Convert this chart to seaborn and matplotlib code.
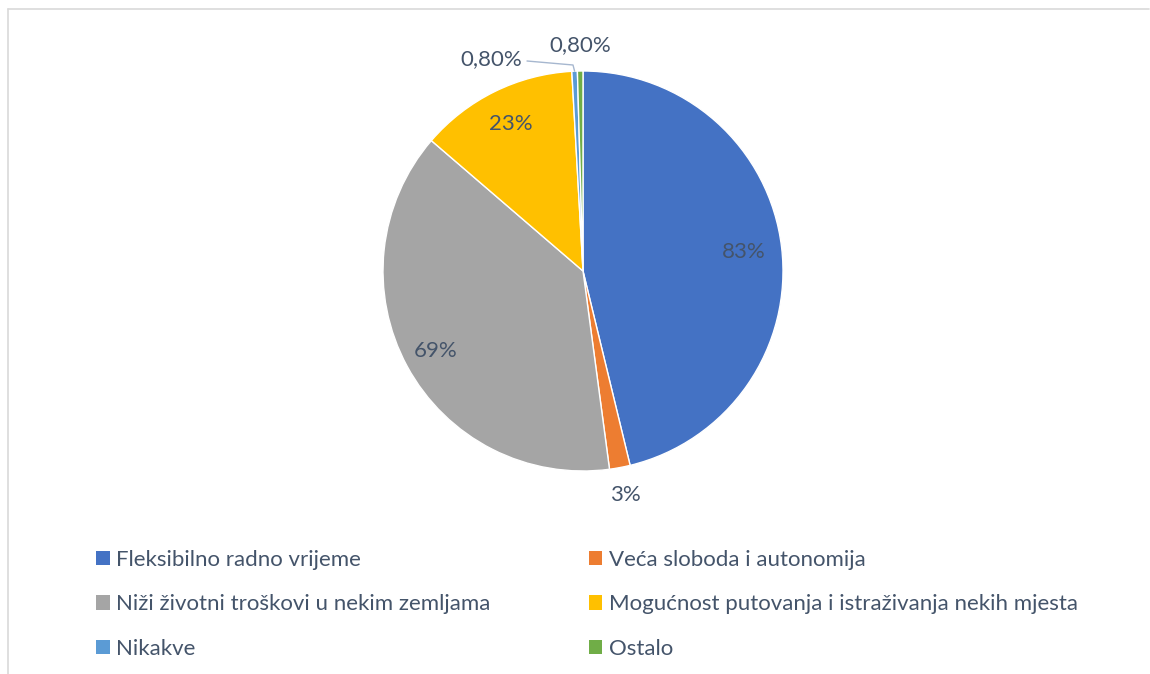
import matplotlib
matplotlib.use("Agg")
import matplotlib.pyplot as plt
import seaborn as sns
from matplotlib.patches import Patch
from matplotlib.lines import Line2D
import numpy as np

categories = ["Fleksibilno radno vrijeme", "Veća sloboda i autonomija",
              "Niži životni troškovi u nekim zemljama",
              "Mogućnost putovanja i istraživanja nekih mjesta",
              "Nikakve", "Ostalo"]
values = [83, 3, 69, 23, 0.8, 0.8]
value_labels = ["83%", "3%", "69%", "23%", "0,80%", "0,80%"]
colors = ["#4472C4", "#ED7D31", "#A5A5A5", "#FFC000", "#5B9BD5", "#70AD47"]

sns.set_theme(style="white")
plt.rcParams['font.family'] = ['Lato', 'DejaVu Sans']
txt_color = "#44546A"

W, H = 1150, 674
fig = plt.figure(figsize=(W / 100, H / 100), dpi=100)
fig.patch.set_facecolor("white")

# chart border (top and left visible)
fig.add_artist(Line2D([7.5 / W, 7.5 / W], [0, 1 - 9 / H], color="#D9D9D9", lw=1.2))
fig.add_artist(Line2D([7.5 / W, 1149 / W], [1 - 9 / H, 1 - 9 / H], color="#D9D9D9", lw=1.2))

cx, cy, r = 583, 271, 200
ax = fig.add_axes([(cx - r) / W, (H - cy - r) / H, 2 * r / W, 2 * r / H])
wedges, _ = ax.pie(values, colors=colors, startangle=90, counterclock=False,
                   radius=1, wedgeprops=dict(linewidth=1, edgecolor="white"))
ax.set_xlim(-1, 1)
ax.set_ylim(-1, 1)
ax.set_aspect("equal")
ax.axis("off")

fs_lab = 16
dists = [0.81, 1.14, 0.84, 0.82, 1.0, 1.0]
for i, (w, lab) in enumerate(zip(wedges, value_labels)):
    ang = np.deg2rad((w.theta1 + w.theta2) / 2)
    x, y = dists[i] * np.cos(ang), dists[i] * np.sin(ang)
    if i == 4:
        tx, ty = -0.46, 1.06
        ax.text(tx, ty, lab, ha="center", va="center", fontsize=fs_lab, color=txt_color, clip_on=False)
        ax.plot([tx + 0.18, -0.05, np.cos(ang)],
                [ty - 0.01, ty - 0.03, np.sin(ang)], color="#A6B7CF", lw=1, clip_on=False)
        continue
    if i == 5:
        x, y = -0.015, 1.13
    ax.text(x, y, lab, ha="center", va="center", fontsize=fs_lab, color=txt_color, clip_on=False)

order = [0, 2, 4, 1, 3, 5]
handles = [Patch(facecolor=colors[i], edgecolor="none") for i in order]
labels = [categories[i] for i in order]
leg = fig.legend(handles, labels, ncol=2, loc="upper left",
                 bbox_to_anchor=(76 / W, 1 - 530 / H), frameon=False,
                 fontsize=16, handlelength=0.62, handleheight=0.62,
                 handletextpad=0.3, labelspacing=1.1, columnspacing=4.4,
                 labelcolor=txt_color)

fig.savefig("out.png", dpi=100)
